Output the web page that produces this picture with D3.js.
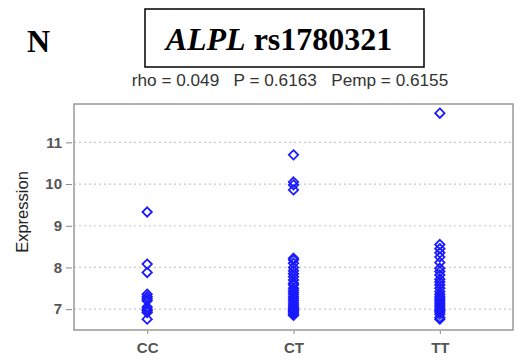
<!DOCTYPE html>
<html>
<head>
<meta charset="utf-8">
<script src="https://cdn.jsdelivr.net/npm/d3@7"></script>
<style>
  body { margin: 0; background: #fff; }
  svg { display: block; }
</style>
</head>
<body>
<svg id="chart" width="515" height="360"></svg>
<script>
var width = 515,
	height = 360;

var genotypes = ["CC", "CT", "TT"];
var yTicks = [7, 8, 9, 10, 11];

// expression values, one array per genotype
var ccValues = [9.33, 8.08, 7.88, 7.36, 7.3, 7.25, 7.2, 7.05, 7.0, 6.96, 6.92, 6.76];
var ctValues = [10.7, 10.05, 9.98, 9.86, 8.22, 8.18, 8.1, 8.0, 7.92, 7.85, 7.78, 7.7,
	7.62, 7.58, 7.5, 7.45, 7.4, 7.35, 7.3, 7.25, 7.2, 7.15, 7.1, 7.05, 7.02, 7.0,
	6.97, 6.94, 6.91, 6.88, 6.85];
var ttValues = [11.7, 8.55, 8.45, 8.35, 8.25, 8.12, 7.98, 7.9, 7.82, 7.72, 7.65, 7.58,
	7.5, 7.42, 7.35, 7.3, 7.25, 7.2, 7.15, 7.1, 7.05, 7.0, 6.97, 6.93, 6.88, 6.8, 6.76];

var stats = "rho = 0.049   P = 0.6163   Pemp = 0.6155";

var points = [];
[ccValues, ctValues, ttValues].forEach(function(vals, i) {
	vals.forEach(function(v) { points.push({ g: genotypes[i], v: v }); });
});

var plot = { left: 74, right: 513, top: 104, bottom: 330 };

var svg = d3.select("#chart");

var x = d3.scalePoint()
	.domain(genotypes)
	.range([plot.left, plot.right])
	.padding(0.5);

var y = d3.scaleLinear()
	.domain([6.5, 11.92])
	.range([plot.bottom, plot.top]);

// panel letter and boxed title
svg.append("text")
	.attr("x", 27).attr("y", 52)
	.style("font-family", "'Liberation Serif', 'Times New Roman', serif")
	.style("font-weight", "bold")
	.style("font-size", "32px")
	.text("N");

svg.append("rect")
	.attr("x", 145).attr("y", 9)
	.attr("width", 279).attr("height", 58)
	.attr("fill", "none")
	.attr("stroke", "#000")
	.attr("stroke-width", 1.5);

var title = svg.append("text")
	.attr("x", 279).attr("y", 50)
	.attr("text-anchor", "middle")
	.style("font-family", "'Liberation Serif', 'Times New Roman', serif")
	.style("font-weight", "bold")
	.style("font-size", "32px");
title.append("tspan").style("font-style", "italic").text("ALPL");
title.append("tspan").text(" rs1780321");

svg.append("text")
	.attr("x", 290).attr("y", 86)
	.attr("text-anchor", "middle")
	.style("font-family", "'Liberation Sans', Arial, sans-serif")
	.style("font-size", "17.2px")
	.style("white-space", "pre")
	.attr("fill", "#333")
	.attr("xml:space", "preserve")
	.text(stats);

// grid lines
svg.append("g")
	.selectAll("line")
	.data(yTicks)
	.enter().append("line")
	.attr("x1", plot.left).attr("x2", plot.right)
	.attr("y1", function(d) { return y(d); })
	.attr("y2", function(d) { return y(d); })
	.attr("stroke", "#c8c8c8")
	.attr("stroke-width", 1.2)
	.attr("stroke-dasharray", "2,3");

// y axis
var yAxis = svg.append("g")
	.attr("transform", "translate(" + (plot.left - 2) + ",0)")
	.call(d3.axisLeft(y).tickValues(yTicks).tickFormat(d3.format("d")).tickSize(6).tickPadding(4));
yAxis.select(".domain").remove();
yAxis.selectAll("line").attr("stroke", "#888");
yAxis.selectAll("text")
	.attr("fill", "#555")
	.style("font-family", "'Liberation Sans', Arial, sans-serif")
	.style("font-weight", "bold")
	.style("font-size", "15px");

// x axis
var xAxis = svg.append("g")
	.attr("transform", "translate(0," + (plot.bottom + 1) + ")")
	.call(d3.axisBottom(x).tickSize(3).tickPadding(8));
xAxis.select(".domain").remove();
xAxis.selectAll("line").attr("stroke", "#888");
xAxis.selectAll("text")
	.attr("fill", "#555")
	.style("font-family", "'Liberation Sans', Arial, sans-serif")
	.style("font-weight", "bold")
	.style("font-size", "15px");

svg.append("text")
	.attr("transform", "translate(28," + 212 + ") rotate(-90)")
	.attr("text-anchor", "middle")
	.style("font-family", "'Liberation Sans', Arial, sans-serif")
	.style("font-size", "16.5px")
	.attr("fill", "#222")
	.text("Expression");

// frame
svg.append("rect")
	.attr("x", plot.left).attr("y", plot.top)
	.attr("width", plot.right - plot.left)
	.attr("height", plot.bottom - plot.top)
	.attr("fill", "none")
	.attr("stroke", "#999")
	.attr("stroke-width", 1.5);

// diamonds
var diamond = d3.symbol().type(d3.symbolDiamond2).size(56);
svg.append("g")
	.selectAll("path")
	.data(points)
	.enter().append("path")
	.attr("d", diamond)
	.attr("transform", function(d) { return "translate(" + x(d.g) + "," + y(d.v) + ")"; })
	.attr("fill", "none")
	.attr("stroke", "#1a1aff")
	.attr("stroke-width", 1.8);
</script>
</body>
</html>
